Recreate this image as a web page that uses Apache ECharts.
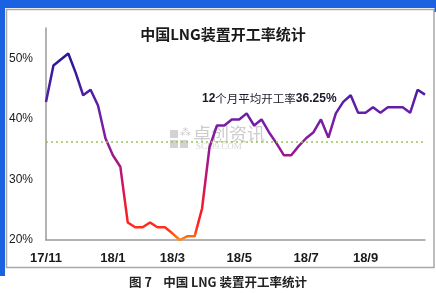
<!DOCTYPE html>
<html>
<head>
<meta charset="utf-8">
<script src="https://cdn.jsdelivr.net/npm/echarts@6/dist/echarts.min.js"></script>
<style>
html,body{margin:0;padding:0;background:#fff;}
#c{width:436px;height:293px;}
</style>
</head>
<body>
<div id="c"></div>
<script>
// Weekly observations, Nov 2017 – Oct 2018 (52 weeks)
const weeks = ['17/11/03','17/11/10','17/11/17','17/11/24','17/12/01','17/12/08','17/12/15','17/12/22','17/12/29',
  '18/01/05','18/01/12','18/01/19','18/01/26','18/02/02','18/02/09','18/02/16','18/02/23',
  '18/03/02','18/03/09','18/03/16','18/03/23','18/03/30','18/04/06','18/04/13','18/04/20','18/04/27',
  '18/05/04','18/05/11','18/05/18','18/05/25','18/06/01','18/06/08','18/06/15','18/06/22','18/06/29',
  '18/07/06','18/07/13','18/07/20','18/07/27','18/08/03','18/08/10','18/08/17','18/08/24',
  '18/08/31','18/09/07','18/09/14','18/09/21','18/09/28','18/10/05','18/10/12','18/10/19','18/10/26'];
const rate = [42.8,48.8,49.8,50.8,47.6,43.9,44.8,42.2,36.8,34.0,32.1,22.9,22.1,22.1,22.9,22.1,22.1,
  21.1,20.0,20.6,20.6,25.2,35.3,38.9,38.9,39.9,39.9,40.9,38.9,39.9,37.8,36.0,34.0,34.0,35.5,
  36.8,37.8,39.9,36.9,40.9,42.8,43.9,41.0,41.0,41.9,41.0,41.9,41.9,41.9,41.0,44.8,44.0];
const average = 36.25;
const tickIndex = [0, 9, 17, 26, 35, 43];
const tickLabels = ['17/11','18/1','18/3','18/5','18/7','18/9'];
const yTicks = [20, 30, 40, 50];
const titleText = '中国LNG装置开工率统计';
const captionText = '图 7    中国 LNG 装置开工率统计';
const noteLead = '12';
const noteMid = '个月平均开工率';
const noteTail = '36.25%';

const chart = echarts.init(document.getElementById('c'), null, {renderer: 'canvas'});
chart.setOption({
  animation: false,
  backgroundColor: '#ffffff',
  title: {
    text: titleText,
    left: 218, top: 22, textAlign: 'center',
    textStyle: {fontFamily: 'Noto Sans CJK SC', fontSize: 15, fontWeight: 'bold', color: '#1a1a1a'}
  },
  grid: {left: 46, top: 28, right: 11, bottom: 53, containLabel: false},
  xAxis: {
    type: 'category',
    data: weeks,
    boundaryGap: false,
    axisLine: {lineStyle: {color: '#9a9a9a', width: 1.5}},
    axisTick: {show: false},
    splitLine: {show: false},
    axisLabel: {
      interval: (i) => tickIndex.indexOf(i) >= 0,
      formatter: (v, i) => { const k = tickIndex.indexOf(i); return k >= 0 ? tickLabels[k] : ''; },
      margin: 12,
      fontFamily: 'Liberation Sans', fontSize: 13, fontWeight: 'bold', color: '#1a1a1a'
    }
  },
  yAxis: {
    type: 'value',
    min: yTicks[0], max: 55, interval: 10,
    axisLine: {show: true, lineStyle: {color: '#9a9a9a', width: 1.5}},
    axisTick: {show: false},
    splitLine: {show: false},
    axisLabel: {
      showMaxLabel: false,
      formatter: (v) => yTicks.indexOf(v) >= 0 ? v + '%' : '',
      margin: 13,
      fontFamily: 'Liberation Sans', fontSize: 12, color: '#1a1a1a'
    }
  },
  visualMap: {
    show: false,
    type: 'continuous',
    seriesIndex: 0,
    dimension: 1,
    min: 20, max: 50,
    inRange: {color: ['#ff8a10', '#ff3a18', '#ff2020', '#f81c28', '#f01a30', '#e0164a', '#d01460',
      '#c01470', '#b0167e', '#a01888', '#921a94', '#881b9a', '#7e1ca2', '#741ea6', '#6a1ea8',
      '#5e1da7', '#521ca6', '#461ba2', '#3a1a9e', '#321a9b', '#2a1898']}
  },
  series: [
    {
      type: 'line',
      data: rate,
      symbol: 'none',
      lineStyle: {width: 2.5},
      z: 3
    },
    {
      type: 'line',
      data: [],
      symbol: 'none',
      markLine: {
        silent: true,
        symbol: ['none', 'none'],
        label: {show: false},
        lineStyle: {type: [2, 3], color: '#9cc45a', width: 1.6},
        data: [{yAxis: average}]
      }
    }
  ],
  graphic: [
    {type: 'rect', shape: {x: 0, y: 0, width: 436, height: 8}, style: {fill: '#1b62e2'}, z: 10},
    {type: 'rect', shape: {x: 0, y: 0, width: 5, height: 276}, style: {fill: '#1b62e2'}, z: 10},
    {type: 'rect', shape: {x: 434.5, y: 0, width: 2, height: 12}, style: {fill: '#1b62e2'}, z: 10},
    {type: 'rect', shape: {x: 6.5, y: 9.5, width: 427.5, height: 258}, style: {fill: 'none', stroke: '#a8a8a8', lineWidth: 1.5}, z: 9},
    // watermark
    {type: 'rect', shape: {x: 170, y: 130, width: 8, height: 8}, style: {fill: '#d2d2d2'}, z: 1},
    {type: 'rect', shape: {x: 170, y: 140, width: 8, height: 8}, style: {fill: '#d2d2d2'}, z: 1},
    {type: 'rect', shape: {x: 180, y: 140, width: 8, height: 8}, style: {fill: '#d2d2d2'}, z: 1},
    {type: 'text', left: 180, top: 128, style: {text: '⁂', fill: '#cccccc', font: '11px DejaVu Sans'}, z: 1},
    {type: 'text', left: 193, top: 125, style: {text: '卓创资讯', fill: '#cdcdcd', font: '18px "Noto Sans CJK SC"'}, z: 1},
    {type: 'text', left: 196, top: 142, style: {text: 'SCI99.COM', fill: '#d4d4d4', font: '9px "Liberation Serif"'}, z: 1},
    // annotation
    {
      type: 'text', left: 202, top: 93, z: 5,
      style: {
        text: '{a|' + noteLead + '}{b|' + noteMid + '}{a|' + noteTail + '}',
        rich: {
          a: {fontFamily: 'Liberation Sans', fontSize: 12, fontWeight: 'bold', fill: '#1a1a2a', color: '#1a1a2a'},
          b: {fontFamily: 'Noto Sans CJK SC', fontSize: 11.5, fill: '#1a1a2a', color: '#1a1a2a'}
        }
      }
    },
    // caption
    {
      type: 'text', left: 'center', top: 276, z: 5,
      style: {text: captionText, fill: '#222', font: '600 12.5px "Noto Sans CJK SC"'}
    }
  ]
});
</script>
</body>
</html>
